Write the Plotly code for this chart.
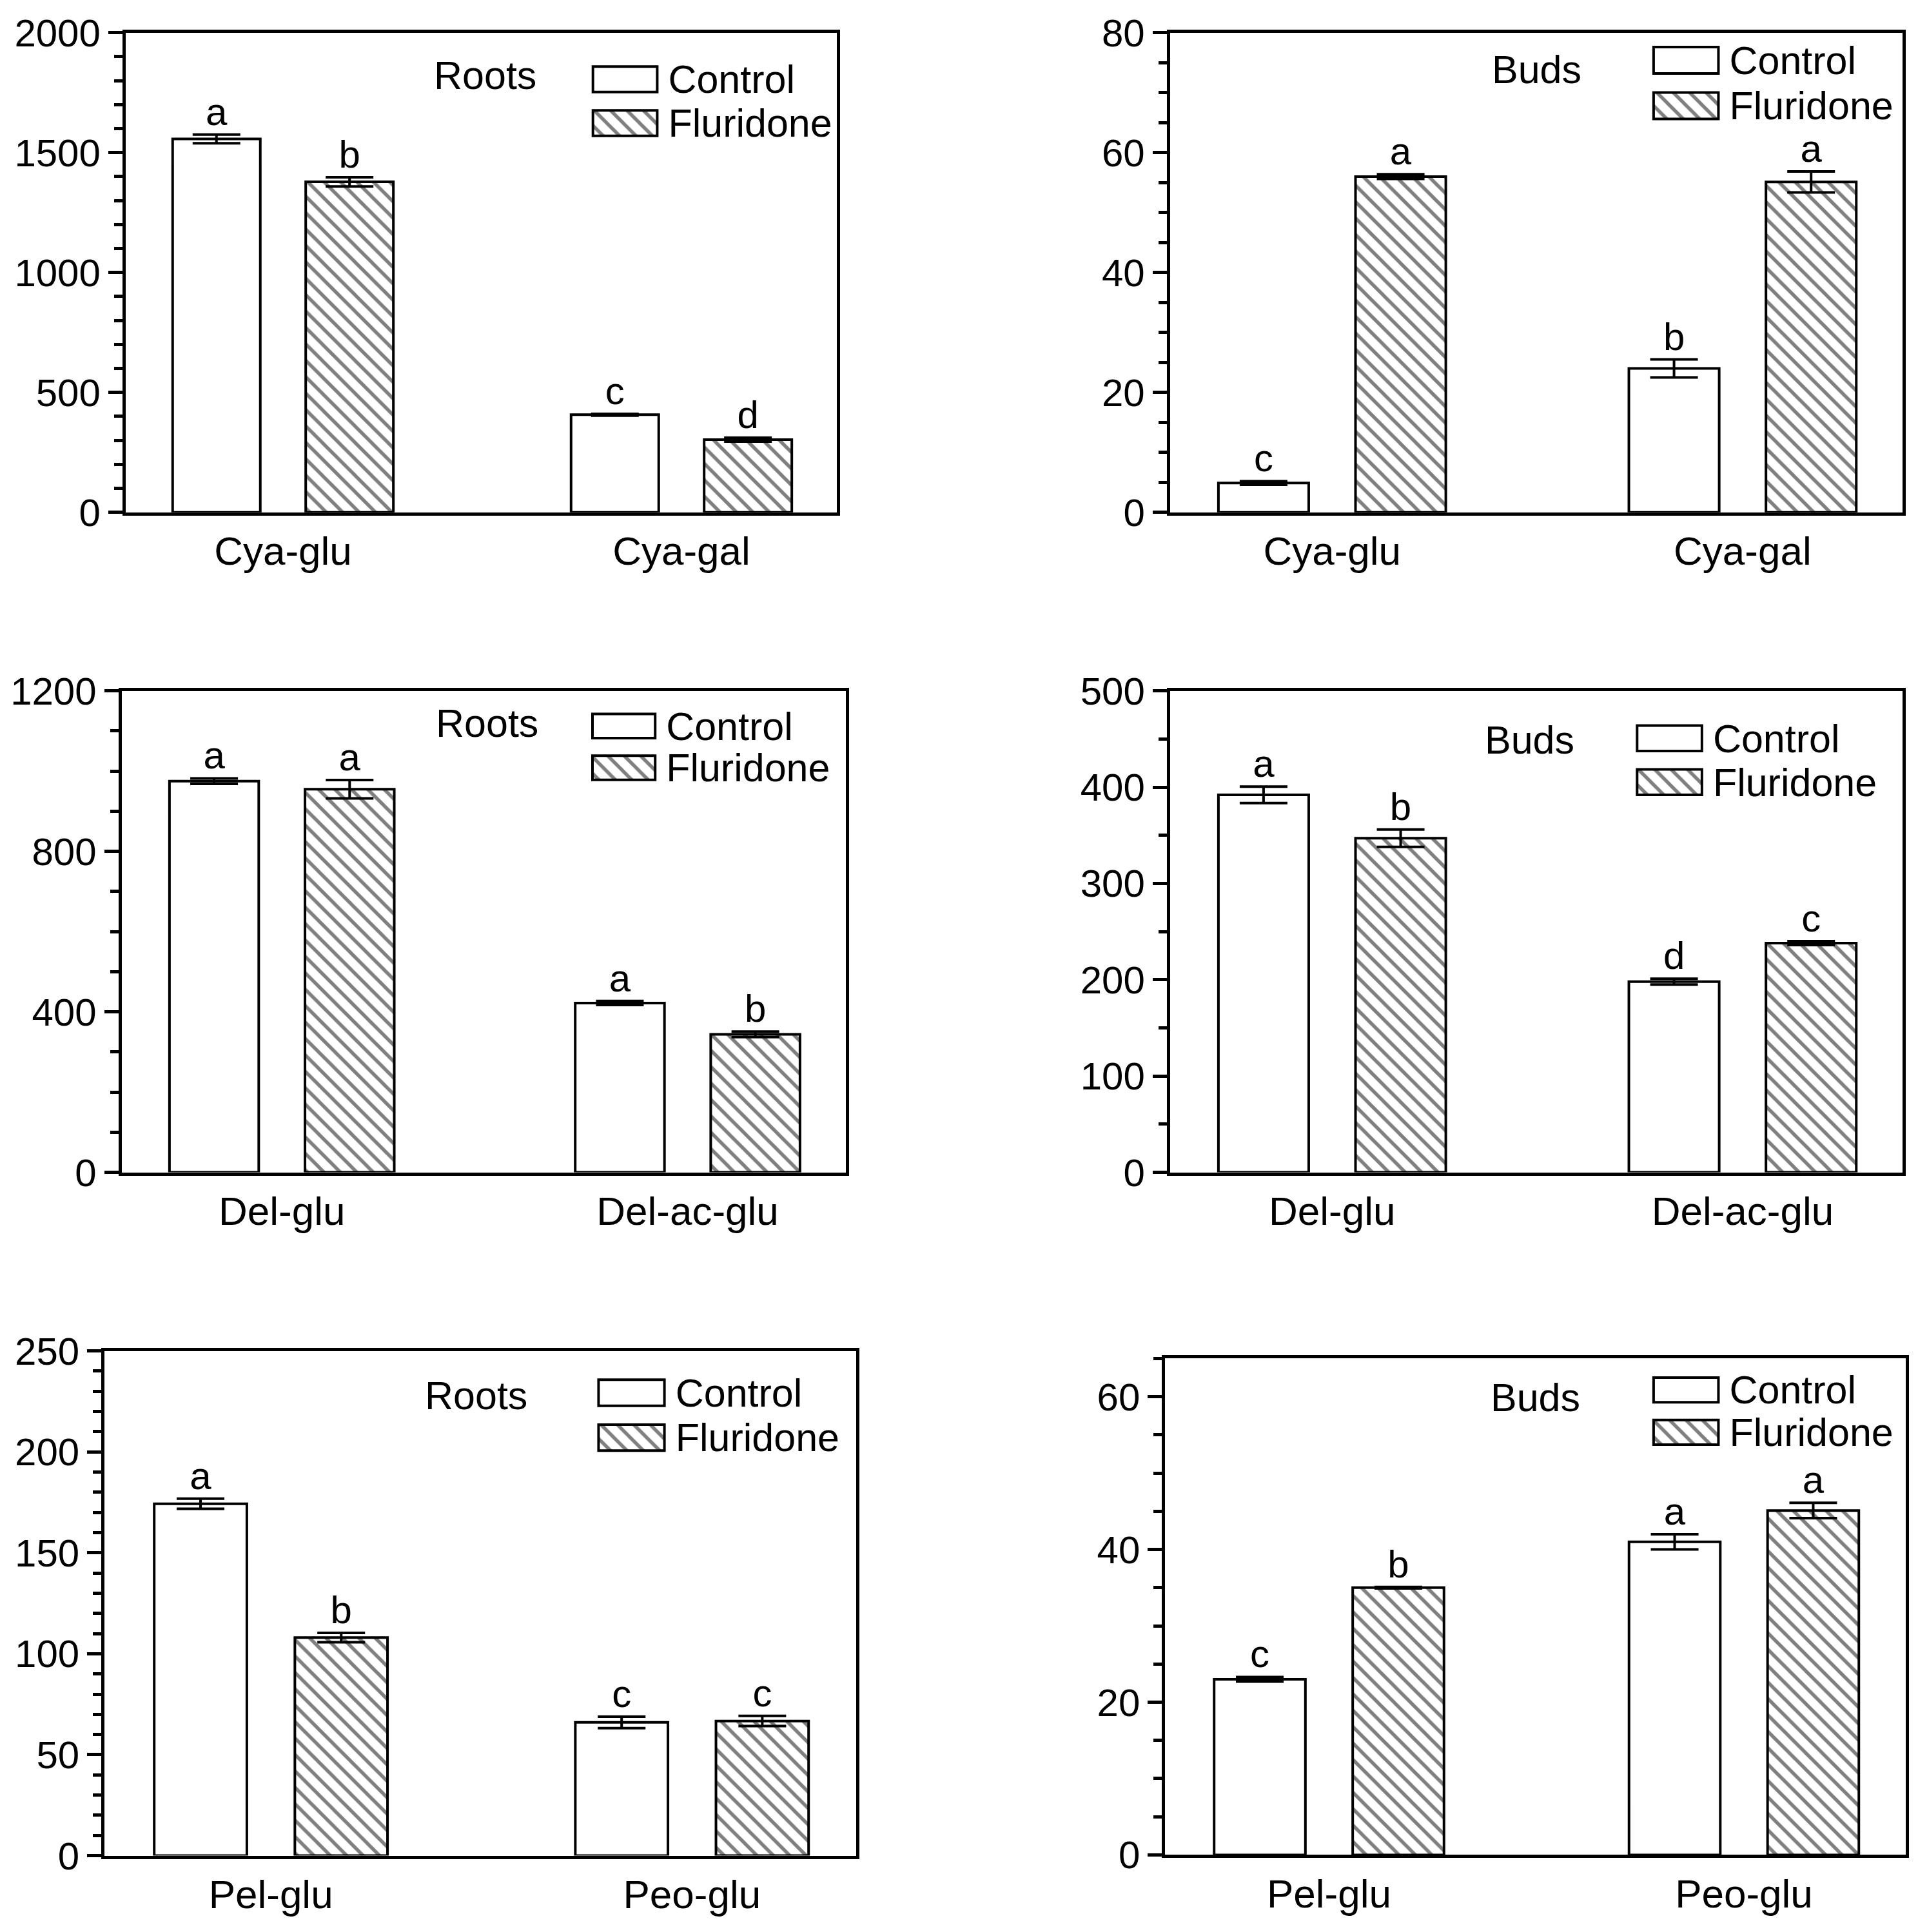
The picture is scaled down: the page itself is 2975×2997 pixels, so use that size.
import plotly.graph_objects as go

# ---- data ----
cats_cya = ["Cya-glu", "Cya-gal"]
cats_del = ["Del-glu", "Del-ac-glu"]
cats_pel = ["Pel-glu", "Peo-glu"]

roots_cya_ctrl = [1557, 407]
roots_cya_ctrl_err = [18, 4]
roots_cya_flu = [1378, 303]
roots_cya_flu_err = [19, 8]
roots_cya_ctrl_lbl = ["a", "c"]
roots_cya_flu_lbl = ["b", "d"]

buds_cya_ctrl = [4.9, 24.0]
buds_cya_ctrl_err = [0.3, 1.5]
buds_cya_flu = [56.0, 55.1]
buds_cya_flu_err = [0.4, 1.75]
buds_cya_ctrl_lbl = ["c", "b"]
buds_cya_flu_lbl = ["a", "a"]

roots_del_ctrl = [975, 422]
roots_del_ctrl_err = [7, 5]
roots_del_flu = [955, 344]
roots_del_flu_err = [23, 7]
roots_del_ctrl_lbl = ["a", "a"]
roots_del_flu_lbl = ["a", "b"]

buds_del_ctrl = [392, 198]
buds_del_ctrl_err = [8.5, 3]
buds_del_flu = [347, 238]
buds_del_flu_err = [9, 2]
buds_del_ctrl_lbl = ["a", "d"]
buds_del_flu_lbl = ["b", "c"]

roots_pel_ctrl = [174.3, 66]
roots_pel_ctrl_err = [2.5, 2.8]
roots_pel_flu = [108, 66.7]
roots_pel_flu_err = [2.3, 2.5]
roots_pel_ctrl_lbl = ["a", "c"]
roots_pel_flu_lbl = ["b", "c"]

buds_pel_ctrl = [23.0, 41.0]
buds_pel_ctrl_err = [0.3, 1.0]
buds_pel_flu = [35.0, 45.1]
buds_pel_flu_err = [0.1, 1.0]
buds_pel_ctrl_lbl = ["c", "a"]
buds_pel_flu_lbl = ["b", "a"]

series_names = ["Control", "Fluridone"]

# ---- panels: data + where they sit on the page (paper fractions) ----
panels = [
    dict(cats=cats_cya, c=roots_cya_ctrl, ce=roots_cya_ctrl_err, f=roots_cya_flu, fe=roots_cya_flu_err,
         cl=roots_cya_ctrl_lbl, fl=roots_cya_flu_lbl, tissue="Roots", yr=[0, 2000], dt=500, mdt=100,
         xd=[0.0655, 0.4363], yd=[0.7348, 0.9831], tpos=(0.2528, 0.961),
         lx=[0.3078, 0.3440], ly=[0.9249, 0.9703]),
    dict(cats=cats_cya, c=buds_cya_ctrl, ce=buds_cya_ctrl_err, f=buds_cya_flu, fe=buds_cya_flu_err,
         cl=buds_cya_ctrl_lbl, fl=buds_cya_flu_lbl, tissue="Buds", yr=[0, 80], dt=20, mdt=5,
         xd=[0.6100, 0.9920], yd=[0.7348, 0.9831], tpos=(0.8013, 0.964),
         lx=[0.8608, 0.8973], ly=[0.9335, 0.9806]),
    dict(cats=cats_del, c=roots_del_ctrl, ce=roots_del_ctrl_err, f=roots_del_flu, fe=roots_del_flu_err,
         cl=roots_del_ctrl_lbl, fl=roots_del_flu_lbl, tissue="Roots", yr=[0, 1200], dt=400, mdt=100,
         xd=[0.0634, 0.4410], yd=[0.3932, 0.6424], tpos=(0.2541, 0.6256),
         lx=[0.3076, 0.3429], ly=[0.5918, 0.6350]),
    dict(cats=cats_del, c=buds_del_ctrl, ce=buds_del_ctrl_err, f=buds_del_flu, fe=buds_del_flu_err,
         cl=buds_del_ctrl_lbl, fl=buds_del_flu_lbl, tissue="Buds", yr=[0, 500], dt=100, mdt=50,
         xd=[0.6100, 0.9920], yd=[0.3932, 0.6424], tpos=(0.7976, 0.6169),
         lx=[0.8522, 0.8887], ly=[0.5838, 0.6292]),
    dict(cats=cats_pel, c=roots_pel_ctrl, ce=roots_pel_ctrl_err, f=roots_pel_flu, fe=roots_pel_flu_err,
         cl=roots_pel_ctrl_lbl, fl=roots_pel_flu_lbl, tissue="Roots", yr=[0, 250], dt=50, mdt=10,
         xd=[0.0545, 0.4464], yd=[0.0395, 0.3008], tpos=(0.2484, 0.2776),
         lx=[0.3107, 0.3478], ly=[0.2443, 0.2907]),
    dict(cats=cats_pel, c=buds_pel_ctrl, ce=buds_pel_ctrl_err, f=buds_pel_flu, fe=buds_pel_flu_err,
         cl=buds_pel_ctrl_lbl, fl=buds_pel_flu_lbl, tissue="Buds", yr=[0, 65], dt=20, mdt=5,
         xd=[0.6075, 0.9936], yd=[0.0399, 0.2968], tpos=(0.8005, 0.2766),
         lx=[0.8608, 0.8973], ly=[0.2476, 0.2916]),
]

FONT = "Liberation Sans, Arial, sans-serif"
OFF = 0.167      # half distance between the two bars of a group
BW = 0.22        # bar width
LW = 4           # bar outline / error bars
FW = 5           # frame + ticks
HATCH = dict(shape="\\", fgcolor="black", bgcolor="white", size=18, solidity=0.3)

fig = go.Figure()
layout = {}
annotations = []

for k, p in enumerate(panels, start=1):
    sx = "" if k == 1 else str(k)
    xa, ya = "x" + sx, "y" + sx
    idx = list(range(len(p["cats"])))
    xc = [i - OFF for i in idx]
    xf = [i + OFF for i in idx]

    fig.add_trace(go.Bar(
        x=xc, y=p["c"], width=BW, xaxis=xa, yaxis=ya, showlegend=False,
        marker=dict(color="white", line=dict(color="black", width=LW)),
        error_y=dict(type="data", array=p["ce"], color="black", thickness=LW, width=37),
    ))
    fig.add_trace(go.Bar(
        x=xf, y=p["f"], width=BW, xaxis=xa, yaxis=ya, showlegend=False,
        marker=dict(color="white", pattern=HATCH, line=dict(color="black", width=LW)),
        error_y=dict(type="data", array=p["fe"], color="black", thickness=LW, width=37),
    ))
    # significance letters above the error bars
    fig.add_trace(go.Scatter(
        x=xc + xf,
        y=[v + e for v, e in zip(p["c"], p["ce"])] + [v + e for v, e in zip(p["f"], p["fe"])],
        text=p["cl"] + p["fl"], mode="text", textposition="top center",
        textfont=dict(family=FONT, size=60, color="black"),
        xaxis=xa, yaxis=ya, showlegend=False, cliponaxis=False,
    ))

    layout["xaxis" + sx] = dict(
        domain=p["xd"], anchor=ya, range=[-0.395, 1.39], automargin=False,
        tickmode="array", tickvals=idx, ticktext=p["cats"], ticks="", ticklabelstandoff=2,
        showline=True, linecolor="black", linewidth=FW, mirror=True,
        showgrid=False, zeroline=False,
        tickfont=dict(family=FONT, size=62, color="black"),
    )
    layout["yaxis" + sx] = dict(
        domain=p["yd"], anchor=xa, range=p["yr"], dtick=p["dt"], tick0=0, automargin=False,
        ticks="outside", ticklen=22, tickwidth=FW, tickcolor="black",
        minor=dict(dtick=p["mdt"], tick0=0, ticks="outside", ticklen=13, tickwidth=FW, tickcolor="black"),
        showline=True, linecolor="black", linewidth=FW, mirror=True,
        showgrid=False, zeroline=False,
        tickfont=dict(family=FONT, size=60, color="black"),
    )

    # legend keys: a small bar chart of their own next to each plot
    m = k + 6
    lxa, lya = "x" + str(m), "y" + str(m)
    fig.add_trace(go.Bar(
        x=[1, 1], y=series_names, orientation="h", width=0.58,
        xaxis=lxa, yaxis=lya, showlegend=False,
        marker=dict(color="white", line=dict(color="black", width=LW),
                    pattern=dict(shape=["", "\\"], fgcolor="black", bgcolor="white",
                                 size=18, solidity=0.3)),
    ))
    layout["xaxis" + str(m)] = dict(domain=p["lx"], anchor=lya, range=[-0.04, 1.04],
                                    visible=False, fixedrange=True, automargin=False)
    layout["yaxis" + str(m)] = dict(domain=p["ly"], anchor=lxa, side="right", automargin=False,
                                    tickmode="array", tickvals=series_names, ticktext=series_names,
                                    categoryorder="array", categoryarray=series_names,
                                    autorange="reversed", ticks="", showline=False,
                                    showgrid=False, zeroline=False, ticklabelstandoff=12,
                                    tickfont=dict(family=FONT, size=61, color="black"))

    annotations.append(dict(
        text=p["tissue"], x=p["tpos"][0], y=p["tpos"][1], xref="paper", yref="paper",
        xanchor="center", yanchor="middle", showarrow=False,
        font=dict(family=FONT, size=61, color="black"),
    ))

fig.update_layout(
    **layout,
    annotations=annotations,
    barmode="overlay",
    width=2975, height=2997,
    margin=dict(l=0, r=0, t=0, b=0),
    paper_bgcolor="white", plot_bgcolor="white",
    font=dict(family=FONT, color="black"),
    showlegend=False,
)

fig.write_html("out.html", config={"displayModeBar": False},
               post_script="document.body.style.margin='0';")
